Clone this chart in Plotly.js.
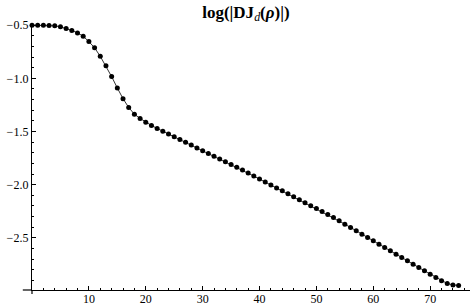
<!DOCTYPE html>
<html>
<head>
<meta charset="utf-8">
<script src="https://cdn.plot.ly/plotly-3.0.1.min.js"></script>
<style>html,body{margin:0;padding:0;background:#fff;}#chart{width:472px;height:306px;}</style>
</head>
<body>
<div id="chart"></div>
<script>
var rho = [];
for (var i = 0; i <= 75; i++) rho.push(i);
var logDJ = [
  -0.500, -0.500, -0.501, -0.503, -0.507, -0.516, -0.531, -0.550, -0.573, -0.604,
  -0.655, -0.713, -0.793, -0.883, -0.984, -1.091, -1.191, -1.274, -1.337, -1.377,
  -1.412, -1.443, -1.471, -1.497, -1.524, -1.550, -1.576, -1.602, -1.628, -1.654,
  -1.680, -1.706, -1.732, -1.758, -1.784, -1.810, -1.837, -1.863, -1.891, -1.919,
  -1.947, -1.975, -2.003, -2.030, -2.058, -2.086, -2.114, -2.141, -2.169, -2.197,
  -2.225, -2.252, -2.280, -2.308, -2.339, -2.371, -2.402, -2.434, -2.465, -2.496,
  -2.528, -2.559, -2.591, -2.622, -2.653, -2.685, -2.716, -2.747, -2.779, -2.810,
  -2.841, -2.872, -2.904, -2.929, -2.942, -2.948
];
var xTickVals = [10, 20, 30, 40, 50, 60, 70];
var yTickVals = [-0.5, -1.0, -1.5, -2.0, -2.5];
var yTickText = ['\u22120.5', '\u22121.0', '\u22121.5', '\u22122.0', '\u22122.5'];
var titleText = '<b>log(|DJ</b><sub><i>d</i></sub><b>(<i>\u03C1</i>)|)</b>';

var font = 'Liberation Serif';
var trace = {
  x: rho, y: logDJ, type: 'scatter', mode: 'lines+markers',
  line: {color: '#333', width: 1},
  marker: {color: '#000', size: 5},
  cliponaxis: false,
  hoverinfo: 'skip'
};
var layout = {
  width: 472, height: 306,
  margin: {l: 32, r: 2, t: 23, b: 16, pad: 0},
  paper_bgcolor: '#fff', plot_bgcolor: '#fff',
  showlegend: false,
  font: {family: font},
  title: {text: titleText, font: {family: font, size: 17, color: '#000'},
          x: 0.521, xref: 'container', xanchor: 'center', y: 0.962, yref: 'container', yanchor: 'middle'},
  xaxis: {
    range: [0, 77], showgrid: false, zeroline: false,
    showline: true, linecolor: '#000', linewidth: 1.2,
    tickmode: 'array', tickvals: xTickVals, ticks: 'inside', ticklen: 4, tickwidth: 1, tickcolor: '#000',
    minor: {tickmode: 'linear', tick0: 0, dtick: 2, ticks: 'inside', ticklen: 2, tickwidth: 1, tickcolor: '#000'},
    tickfont: {family: font, size: 12, color: '#000'}, ticklabelstandoff: -3
  },
  yaxis: {
    range: [-2.99, -0.48], showgrid: false, zeroline: false,
    showline: true, linecolor: '#000', linewidth: 1.2,
    tickmode: 'array', tickvals: yTickVals, ticktext: yTickText, ticks: 'inside', ticklen: 4, tickwidth: 1, tickcolor: '#000',
    minor: {tickmode: 'linear', tick0: -0.5, dtick: 0.1, ticks: 'inside', ticklen: 2, tickwidth: 1, tickcolor: '#000'},
    tickfont: {family: font, size: 12, color: '#000'}, ticklabelstandoff: 0
  },
  shapes: [
    {type: 'line', xref: 'paper', yref: 'paper', x0: -0.021, x1: 0, y0: 0, y1: 0, line: {color: '#000', width: 1.2}},
    {type: 'line', xref: 'paper', yref: 'paper', x0: 0, x1: 0, y0: -0.015, y1: 0, line: {color: '#000', width: 1.2}}
  ]
};
Plotly.newPlot('chart', [trace], layout, {staticPlot: true, displayModeBar: false});
</script>
</body>
</html>
